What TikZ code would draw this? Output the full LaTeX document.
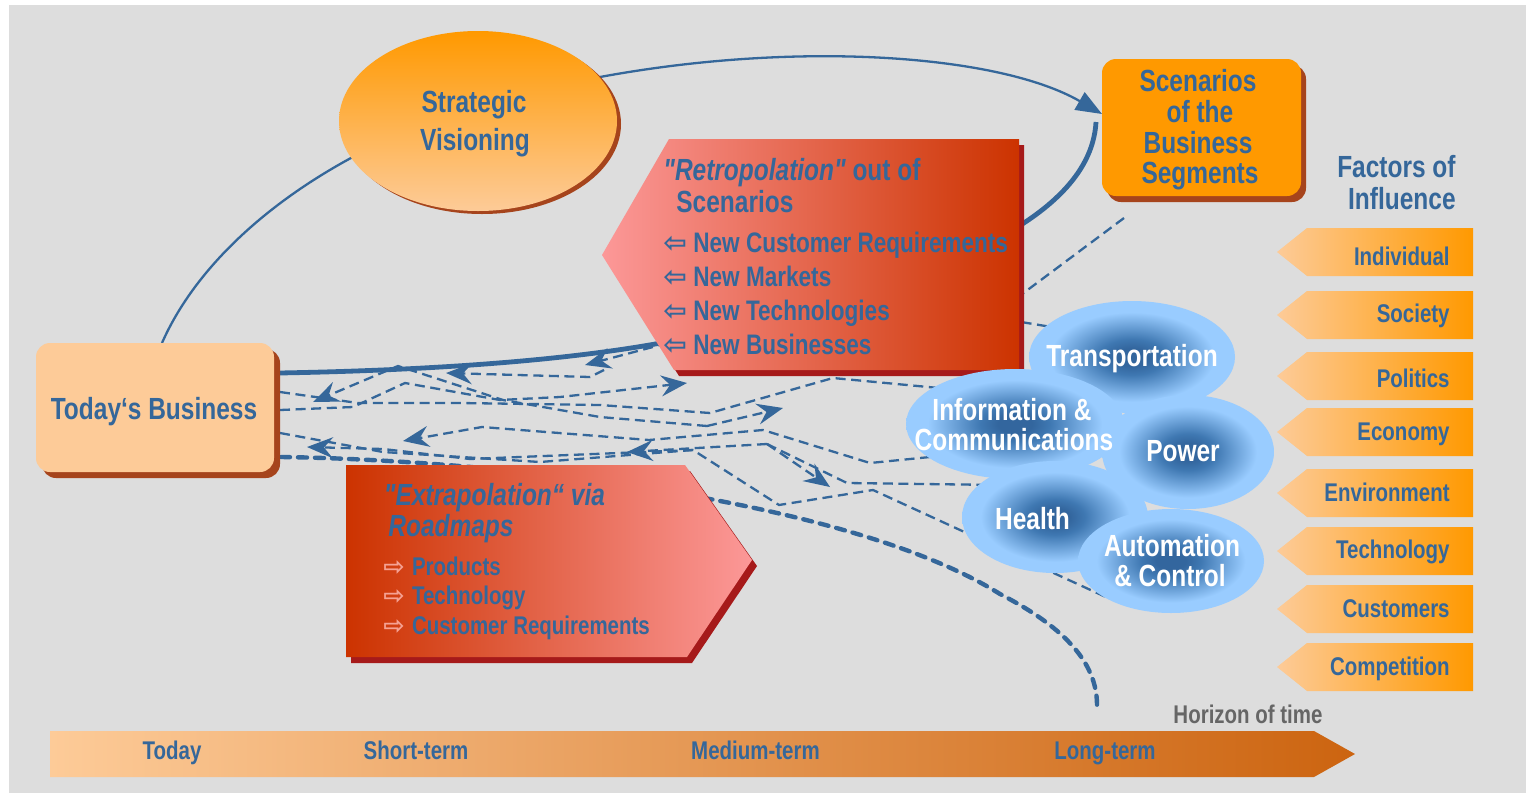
\documentclass[tikz,border=0pt]{standalone}
\usepackage{fontspec}
\setmainfont{Liberation Sans}[FakeStretch=0.8]
\newfontfamily\qf{Liberation Sans}[FakeStretch=0.8]
\newfontfamily\symf{DejaVu Sans}
\usetikzlibrary{arrows.meta}
\definecolor{tblue}{HTML}{35679A}
\definecolor{bgg}{HTML}{DDDDDD}
\definecolor{peach}{HTML}{FDCB98}
\definecolor{orng}{HTML}{FF9900}
\definecolor{brsh}{HTML}{A6441C}
\definecolor{pinkl}{HTML}{FC9898}
\definecolor{redd}{HTML}{CC3300}
\definecolor{redsh}{HTML}{A61A1A}
\definecolor{bubl}{HTML}{99CCFF}
\definecolor{bubd}{HTML}{33669E}
\definecolor{bubm}{HTML}{3F78B2}
\definecolor{axr}{HTML}{CC6410}
\definecolor{gtxt}{HTML}{666666}
\definecolor{parr}{HTML}{F5A294}
\pgfdeclareradialshading{bubble}{\pgfpoint{0bp}{0bp}}{color(0bp)=(bubd); color(4bp)=(bubd); color(8bp)=(bubm); color(20bp)=(bubl); color(25bp)=(bubl); color(50bp)=(bubl)}
\newcommand\myfbig{\bfseries\fontsize{15.3}{17}\selectfont}
\newcommand\myfitem{\bfseries\fontsize{14.1}{16}\selectfont}
\newcommand\myfsml{\bfseries\fontsize{12.8}{14}\selectfont}
\begin{document}
\begin{tikzpicture}[x=0.5pt,y=-0.5pt,
  txt/.style={inner sep=0pt, text=tblue, font=\myfbig},
  cb/.style={txt, anchor=base},
  lb/.style={txt, anchor=base west},
  rb/.style={txt, anchor=base east},
  item/.style={lb, font=\myfitem},
  xitem/.style={lb, font=\myfsml},
  fac/.style={txt, anchor=base east, font=\myfsml},
  tl/.style={txt, anchor=base, font=\myfsml},
  bub/.style={cb, text=white},
  sline/.style={draw=tblue, line width=1.15pt},
  bline/.style={draw=tblue, line width=2.4pt},
  dline/.style={draw=tblue, line width=1.15pt, dash pattern=on 5pt off 2.8pt},
  tdline/.style={draw=tblue, line width=2.2pt, line cap=round, dash pattern=on 4.5pt off 4pt},
  ar/.style={-{Stealth[length=13pt,width=10.5pt,inset=4.5pt]}},
]
\useasboundingbox (0,0) rectangle (1526,793);
\fill[white] (0,0) rectangle (1526,793);
\fill[bgg] (9,5) rectangle (1526,793);

% ---------- connector end points
\coordinate (tbT) at (162,343);
\coordinate (svA) at (600,77);
\coordinate (scL) at (1102,114);
\coordinate (tbR) at (279,373);
\coordinate (rbB) at (700,335);
\coordinate (scB) at (1096,122);
\coordinate (scD) at (1124,218);
\coordinate (tdA) at (281,457);
\coordinate (tdM) at (1000,594);
\coordinate (tdE) at (1097,705);

% ---------- solid curves
\draw[sline, -{Triangle[length=13pt,width=10pt]}] (tbT) .. controls (215,222) and (380,110) .. (svA) .. controls (800,40) and (1000,55) .. (scL);
\draw[bline] (tbR) .. controls (450,370) and (600,358) .. (rbB) .. controls (900,290) and (1090,230) .. (scB);

% ---------- dashed tangle
\draw[dline] (scD) -- (990,318);
\draw[dline] (960,312) -- (1070,330);
\draw[dline,ar] (668,343) -- (585,365);
\draw[dline,ar] (604,370) -- (590,377) -- (446,373);
\draw[dline,ar] (707,426) -- (600,417) -- (503,400) -- (398,366) -- (313,402);
\draw[dline,ar] (930,457) -- (870,463) -- (763,430) -- (649,440) -- (482,427) -- (403,441);
\draw[dline,ar] (767,444) -- (627,452);
\draw[dline,ar] (693,450) -- (470,459) -- (383,449) -- (307,447);
\draw[dline,ar] (280,410) -- (353,407) -- (405,383) -- (500,400) -- (560,397) -- (687,383);
\draw[dline] (280,392) -- (358,403) -- (460,403) -- (600,405) -- (710,413) -- (833,378) -- (960,390);
\draw[dline,ar] (707,426) -- (783,408);
\draw[dline,ar] (767,444) -- (830,487);
\draw[dline] (767,444) -- (847,483) -- (1000,485);
\draw[dline] (280,433) -- (383,452) -- (540,462) -- (693,450) -- (779,505) -- (873,490) -- (1108,598);
\draw[tdline] (tdA) .. controls (500,460) and (850,500) .. (tdM) .. controls (1060,625) and (1097,660) .. (tdE);

% ---------- Strategic Visioning
\fill[brsh] (482,124) ellipse [x radius=139, y radius=90];
\shade[top color=orng, bottom color=peach] (478,121) ellipse [x radius=139, y radius=90];
\node[cb] (sv1) at (474,112.7) {Strategic};
\node[cb] (sv2) at (475,150) {Visioning};

% ---------- Today's Business
\fill[brsh, rounded corners=7pt] (42,349) rectangle (280,478);
\fill[peach, rounded corners=7pt] (36,343) rectangle (274,472);
\node[cb] (tb) at (154,419) {Today‘s Business};

% ---------- Scenarios of the Business Segments
\fill[brsh, rounded corners=7pt] (1107,65) rectangle (1306,202);
\fill[orng, rounded corners=7pt] (1102,59) rectangle (1301,196);
\node[cb] (sc1) at (1198,91.7) {Scenarios};
\node[cb] (sc2) at (1200,122.5) {of the};
\node[cb] (sc3) at (1198,153) {Business};
\node[cb] (sc4) at (1200,183.5) {Segments};

% ---------- Factors of Influence
\node[rb] (fi1) at (1456,177.7) {Factors of};
\node[rb] (fi2) at (1456,209) {Influence};
\foreach \c/\b/\t in {252/265/Individual, 315/322.7/Society, 376/387.3/Politics, 432/440/Economy, 493/501.7/Environment, 551/558.3/Technology, 609/617.3/Customers, 667/675/Competition}{
  \shade[left color=peach, right color=orng] (1277,\c) -- (1307,\c-24) -- (1473,\c-24) -- (1473,\c+24) -- (1307,\c+24) -- cycle;
  \node[fac] (f-\t) at (1450,\b) {\t};
}

% ---------- Retropolation box
\fill[redsh] (607,261) -- (674,145) -- (1024,145) -- (1024,376) -- (679,376) -- cycle;
\shade[left color=pinkl, right color=redd] (602,255) -- (669,139) -- (1019,139) -- (1019,370) -- (674,370) -- cycle;
\node[lb] (rt1) at (663,180) {\itshape{\qf"}Retropolation{\qf"}\upshape{} out of};
\node[lb] (rt2) at (676,212.7) {Scenarios};
\node[item] (rt3) at (663,252.7) {\makebox[15pt][l]{\symf ⇦}New Customer Requirements};
\node[item] (rt4) at (663,286.7) {\makebox[15pt][l]{\symf ⇦}New Markets};
\node[item] (rt5) at (663,320.7) {\makebox[15pt][l]{\symf ⇦}New Technologies};
\node[item] (rt6) at (663,354) {\makebox[15pt][l]{\symf ⇦}New Businesses};

% ---------- Extrapolation box
\fill[redsh] (351,471) -- (690,471) -- (757,566) -- (692,663) -- (351,663) -- cycle;
\shade[left color=redd, right color=pinkl] (346,465) -- (685,465) -- (752,560) -- (687,657) -- (346,657) -- cycle;
\node[lb] (ex1) at (383.5,505) {\itshape{\qf"}Extrapolation“ via};
\node[lb] (ex2) at (388,536.7) {\itshape Roadmaps};
\node[xitem] (ex3) at (383,575) {\makebox[14.3pt][l]{\color{parr}\symf ⇨}Products};
\node[xitem] (ex4) at (383,604.5) {\makebox[14.3pt][l]{\color{parr}\symf ⇨}Technology};
\node[xitem] (ex5) at (383,634) {\makebox[14.3pt][l]{\color{parr}\symf ⇨}Customer Requirements};

% ---------- bubbles
\shade[shading=bubble] (1132,357) ellipse [x radius=103, y radius=56];
\shade[shading=bubble] (1188,452) ellipse [x radius=86, y radius=57];
\shade[shading=bubble] (1015,424) ellipse [x radius=109, y radius=55];
\shade[shading=bubble] (1055,517) ellipse [x radius=93, y radius=56];
\shade[shading=bubble] (1171,561) ellipse [x radius=93, y radius=52];
\node[bub] (b1) at (1132,366) {Transportation};
\node[bub] (b2) at (1012,420) {Information \&};
\node[bub] (b3) at (1014,450.7) {Communications};
\node[bub] (b4) at (1183,461.7) {Power};
\node[bub] (b5) at (1032.5,529) {Health};
\node[bub] (b6) at (1172,556.7) {Automation};
\node[bub] (b7) at (1170,586.7) {\& Control};

% ---------- time axis
\shade[left color=peach, right color=axr] (50,731) -- (1314,731) -- (1355,754) -- (1314,777) -- (50,777) -- cycle;
\node[tl] (t1) at (172,759) {Today};
\node[tl] (t2) at (416,759) {Short-term};
\node[tl] (t3) at (755.5,759) {Medium-term};
\node[tl] (t4) at (1105,759) {Long-term};
\node[tl, text=gtxt] (hz) at (1248,723.3) {Horizon of time};
\end{tikzpicture}
\end{document}
